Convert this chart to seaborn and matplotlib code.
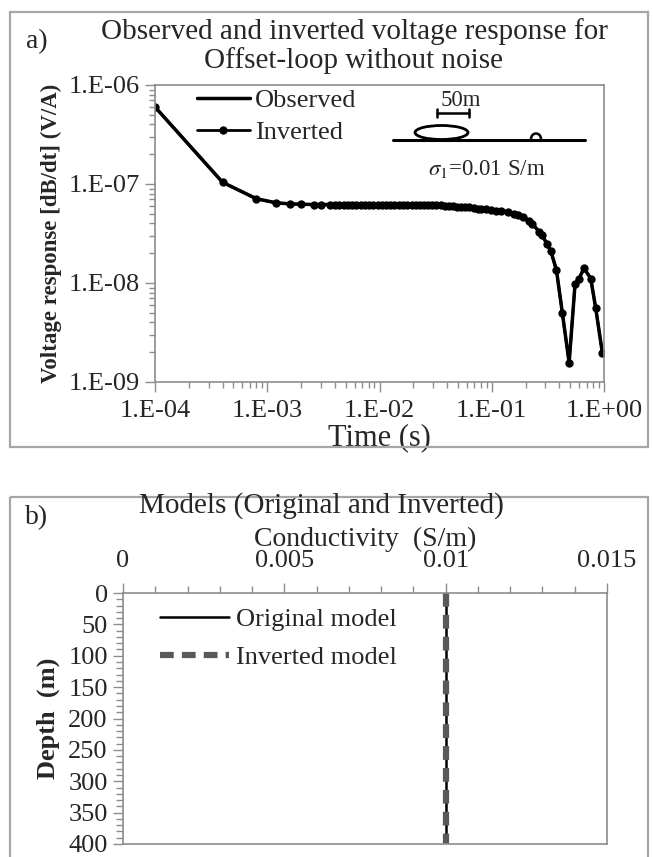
import matplotlib
matplotlib.use("Agg")
import matplotlib.pyplot as plt
import seaborn as sns
import pandas as pd
from matplotlib.patches import Ellipse, Rectangle, Arc
from matplotlib.transforms import Affine2D
from matplotlib.ticker import FixedLocator, FuncFormatter, MultipleLocator, NullFormatter, LogLocator

# ---------------- data ----------------
time_s = [1.0e-4, 4.0e-4, 8.0e-4, 1.2e-3, 1.6e-3, 2.0e-3, 2.6e-3, 3.0e-3, 3.6e-3,
          4.0e-3, 4.4e-3, 4.8e-3, 5.2e-3, 5.7e-3, 6.2e-3, 6.8e-3, 7.4e-3, 8.1e-3, 8.8e-3, 9.6e-3,
          1.05e-2, 1.15e-2, 1.25e-2, 1.36e-2, 1.48e-2, 1.62e-2, 1.77e-2, 1.93e-2, 2.1e-2, 2.3e-2,
          2.5e-2, 2.7e-2, 2.95e-2, 3.2e-2, 3.5e-2,
          3.8e-2, 4.15e-2, 4.5e-2, 4.9e-2, 5.35e-2, 5.8e-2, 6.3e-2, 6.9e-2, 7.5e-2,
          8.0e-2, 8.9e-2, 9.8e-2, 0.109, 0.121, 0.141, 0.158, 0.173, 0.19, 0.216, 0.23,
          0.264, 0.279, 0.31, 0.336, 0.377, 0.426, 0.489, 0.552, 0.60, 0.664, 0.762, 0.844, 0.966]

observed_v = [6.0e-7, 1.04e-7, 7.1e-8, 6.45e-8, 6.3e-8, 6.25e-8, 6.2e-8, 6.2e-8, 6.2e-8,
              6.2e-8, 6.2e-8, 6.2e-8, 6.2e-8, 6.2e-8, 6.2e-8, 6.2e-8, 6.2e-8, 6.2e-8, 6.2e-8, 6.2e-8,
              6.2e-8, 6.2e-8, 6.2e-8, 6.2e-8, 6.2e-8, 6.2e-8, 6.2e-8, 6.2e-8, 6.2e-8, 6.2e-8,
              6.2e-8, 6.2e-8, 6.2e-8, 6.2e-8, 6.15e-8,
              6.0e-8, 5.95e-8, 5.95e-8, 5.9e-8, 5.9e-8, 5.85e-8, 5.8e-8, 5.7e-8, 5.65e-8,
              5.55e-8, 5.54e-8, 5.45e-8, 5.37e-8, 5.35e-8, 5.25e-8, 4.98e-8, 4.83e-8, 4.61e-8, 4.27e-8, 3.94e-8,
              3.31e-8, 3.06e-8, 2.5e-8, 2.1e-8, 1.35e-8, 4.94e-9, 1.57e-9, 9.7e-9, 1.11e-8, 1.41e-8, 1.11e-8, 5.55e-9, 1.98e-9]

inverted_v = list(observed_v)

x_ticks_a = [1e-4, 1e-3, 1e-2, 1e-1, 1e0]
x_labels_a = ["1.E-04", "1.E-03", "1.E-02", "1.E-01", "1.E+00"]
y_ticks_a = [1e-9, 1e-8, 1e-7, 1e-6]
y_labels_a = ["1.E-09", "1.E-08", "1.E-07", "1.E-06"]

depth_m = [0, 400]
cond_original = [0.01, 0.01]
cond_inverted = [0.01, 0.01]
x_ticks_b = [0, 0.005, 0.01, 0.015]
x_labels_b = ["0", "0.005", "0.01", "0.015"]
y_ticks_b = [0, 50, 100, 150, 200, 250, 300, 350, 400]

# ---------------- style ----------------
sns.set_theme(style="white")
plt.rcParams["font.family"] = ["Liberation Serif", "DejaVu Serif"]
plt.rcParams["mathtext.fontset"] = "stix"

W, H = 653, 857
fig = plt.figure(figsize=(W / 100, H / 100), dpi=100)
fig.patch.set_facecolor("white")
pt = Affine2D().scale(1, -1).translate(0, H)  # pixel coords from top-left

GRAY = "#8c8c8c"
FS = 19

def fax(l, t, r, b):
    return [l / W, 1 - b / H, (r - l) / W, (b - t) / H]

# panel frames
for (x0, y0, x1, y1) in [(10, 12, 648, 447), (10, 497, 648, 870)]:
    fig.patches.append(Rectangle((x0, y0), x1 - x0, y1 - y0, transform=pt,
                                 fill=False, edgecolor="#a6a6a6", lw=1.6))

# ---------------- panel a ----------------
ax1 = fig.add_axes(fax(155, 85, 604, 382))
df_a = pd.DataFrame({"t": time_s, "obs": observed_v, "inv": inverted_v})
sns.lineplot(data=df_a, x="t", y="obs", ax=ax1, color="black", lw=2.5,
             label="Observed", estimator=None, sort=False)
sns.lineplot(data=df_a, x="t", y="inv", ax=ax1, color="black", lw=2.0,
             marker="o", markersize=6, markeredgewidth=0, label="Inverted",
             estimator=None, sort=False)
ax1.set_xscale("log")
ax1.set_yscale("log")
ax1.set_xlim(1e-4, 1e0)
ax1.set_ylim(1e-9, 1e-6)
ax1.xaxis.set_major_locator(FixedLocator(x_ticks_a))
ax1.xaxis.set_major_formatter(FuncFormatter(lambda v, p: x_labels_a[x_ticks_a.index(v)] if v in x_ticks_a else ""))
ax1.yaxis.set_major_locator(FixedLocator(y_ticks_a))
ax1.yaxis.set_major_formatter(FuncFormatter(lambda v, p: y_labels_a[y_ticks_a.index(v)] if v in y_ticks_a else ""))
ax1.xaxis.set_minor_locator(LogLocator(base=10, subs=range(2, 10)))
ax1.yaxis.set_minor_locator(LogLocator(base=10, subs=range(2, 10)))
ax1.xaxis.set_minor_formatter(NullFormatter())
ax1.yaxis.set_minor_formatter(NullFormatter())
ax1.tick_params(axis="both", which="major", direction="out", length=7, width=1,
                color=GRAY, labelsize=FS, pad=4, bottom=True, left=True)
ax1.tick_params(axis="both", which="minor", direction="out", length=4, width=1,
                color=GRAY, bottom=True, left=True)
ax1.tick_params(axis="x", which="major", pad=6)
for s in ax1.spines.values():
    s.set_color(GRAY)
    s.set_linewidth(1.2)
ax1.set_xlabel("Time (s)", fontsize=22, labelpad=1)
ax1.set_ylabel("Voltage response [dB/dt] (V/A)", fontsize=16.5, fontweight="bold", labelpad=5)
ax1.legend(loc="upper left", bbox_to_anchor=(197, 89), bbox_transform=pt, frameon=False,
           fontsize=FS, handlelength=2.0, handletextpad=0.2, labelspacing=0.3,
           borderpad=0, borderaxespad=0)

fig.text(37, 42, "a)", transform=pt, fontsize=20, ha="center", va="center")
fig.text(354, 46, "Observed and inverted voltage response for\nOffset-loop without noise",
         transform=pt, fontsize=21, ha="center", va="center", linespacing=1.1)

# inset sketch
fig.lines.append(plt.Line2D([393, 585], [140, 140], transform=pt, color="black", lw=2.2))
fig.patches.append(Ellipse((441.5, 132.5), 53, 14, transform=pt, fill=False, edgecolor="black", lw=2))
fig.patches.append(Arc((536, 139), 10, 11, theta1=180, theta2=360, transform=pt, edgecolor="black", lw=1.8))
fig.lines.append(plt.Line2D([437, 469], [113, 113], transform=pt, color="black", lw=1.8))
fig.lines.append(plt.Line2D([437, 437], [109, 117], transform=pt, color="black", lw=1.8))
fig.lines.append(plt.Line2D([469, 469], [109, 117], transform=pt, color="black", lw=1.8))
fig.text(461, 100, "50m", transform=pt, fontsize=16.5, ha="center", va="center")
fig.text(487, 169, r"$\sigma_1$=0.01 S/m", transform=pt, fontsize=16.5, ha="center", va="center")

# ---------------- panel b ----------------
ax2 = fig.add_axes(fax(123, 593, 607, 844))
df_b = pd.DataFrame({"depth": depth_m, "orig": cond_original, "inv": cond_inverted})
sns.lineplot(data=df_b, x="orig", y="depth", ax=ax2, color="black", lw=1.8,
             label="Original model", estimator=None, sort=False)
sns.lineplot(data=df_b, x="inv", y="depth", ax=ax2, color="#595959", lw=4.5,
             label="Inverted model", estimator=None, sort=False)
ax2.lines[1].set_dashes((2.2, 1.3))
ax2.set_xlim(0, 0.015)
ax2.set_ylim(400, 0)
ax2.xaxis.tick_top()
ax2.xaxis.set_label_position("top")
ax2.xaxis.set_major_locator(FixedLocator(x_ticks_b))
ax2.set_xticklabels(x_labels_b)
ax2.xaxis.set_minor_locator(MultipleLocator(0.001))
ax2.yaxis.set_major_locator(FixedLocator(y_ticks_b))
ax2.set_yticklabels([str(v) for v in y_ticks_b])
ax2.yaxis.set_minor_locator(MultipleLocator(10))
ax2.tick_params(axis="both", which="major", direction="out", length=7, width=1,
                color=GRAY, labelsize=FS, pad=4, top=True, left=True, bottom=False)
ax2.tick_params(axis="both", which="minor", direction="out", length=5, width=1,
                color=GRAY, top=True, left=True, bottom=False)
ax2.tick_params(axis="x", which="major", pad=8)
for s in ax2.spines.values():
    s.set_color(GRAY)
    s.set_linewidth(1.2)
ax2.set_xlabel("Conductivity  (S/m)", fontsize=20, labelpad=3)
ax2.set_ylabel("Depth  (m)", fontsize=FS, fontweight="bold", labelpad=6)
ax2.legend(loc="upper left", bbox_to_anchor=(160, 608), bbox_transform=pt, frameon=False,
           fontsize=FS, handlelength=2.6, handletextpad=0.27, labelspacing=0.55,
           borderpad=0, borderaxespad=0)

fig.text(37, 518, "b)", transform=pt, fontsize=20, ha="center", va="center")
fig.text(321, 506, "Models (Original and Inverted)", transform=pt, fontsize=21,
         ha="center", va="center")

fig.savefig("out.png", dpi=100, facecolor="white")
